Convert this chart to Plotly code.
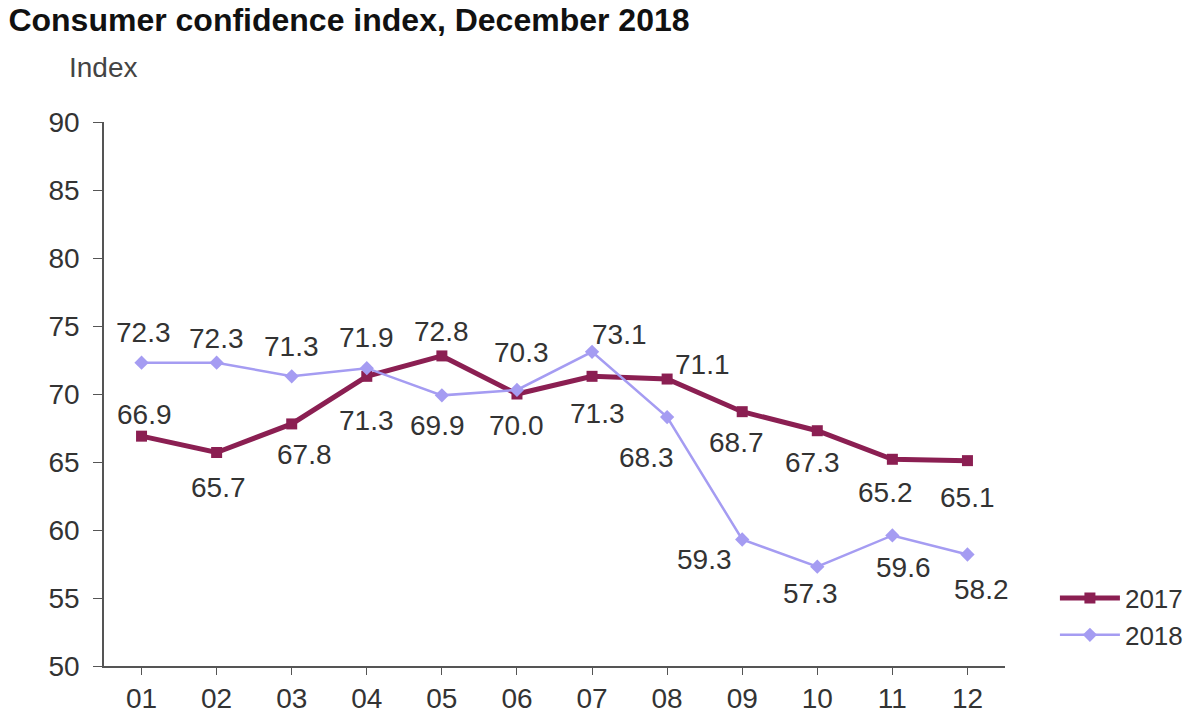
import plotly.graph_objects as go

months = ["01", "02", "03", "04", "05", "06", "07", "08", "09", "10", "11", "12"]
vals_2017 = [66.9, 65.7, 67.8, 71.3, 72.8, 70.0, 71.3, 71.1, 68.7, 67.3, 65.2, 65.1]
vals_2018 = [72.3, 72.3, 71.3, 71.9, 69.9, 70.3, 73.1, 68.3, 59.3, 57.3, 59.6, 58.2]
y_ticks = [50, 55, 60, 65, 70, 75, 80, 85, 90]

# label offsets in pixels (style only)
off_2017 = [(3, 22), (2, -35), (13, -31), (0, -44), (0, 24), (0, -31),
            (5, -37), (35, 15), (-6, -31), (-5, -32), (-7, -33), (0, -37)]
off_2018 = [(2, 30), (0, 24), (0, 30), (0, 31), (-4, -30), (5, 37),
            (27, 17), (-21, -40), (-38, -20), (-7, -27), (11, -32), (14, -35)]

c2017 = "#8b1f52"
c2018 = "#a59cf2"
FONT = "Liberation Sans, Arial"

fig = go.Figure()
fig.add_trace(go.Scatter(
    x=list(range(len(months))), y=vals_2017, name="2017", mode="lines+markers",
    line=dict(color=c2017, width=5),
    marker=dict(symbol="square", size=11, color=c2017),
))
fig.add_trace(go.Scatter(
    x=list(range(len(months))), y=vals_2018, name="2018", mode="lines+markers",
    line=dict(color=c2018, width=2.5),
    marker=dict(symbol="diamond", size=11, color=c2018),
))

ann = []
for vals, offs in ((vals_2017, off_2017), (vals_2018, off_2018)):
    for i, (v, (dx, dy)) in enumerate(zip(vals, offs)):
        ann.append(dict(x=i, y=v, text=f"{v:.1f}", showarrow=False,
                        xshift=dx, yshift=dy,
                        font=dict(size=28, color="#333333", family=FONT)))

ann.append(dict(xref="paper", yref="paper", x=-0.041, y=1.1, xanchor="left", yanchor="middle",
                text="Index", showarrow=False,
                font=dict(size=28, color="#444444", family=FONT)))

fig.update_layout(
    width=1200, height=723,
    margin=dict(l=104, r=193, t=122, b=57),
    paper_bgcolor="white", plot_bgcolor="white",
    font=dict(family=FONT, color="#333333", size=28),
    title=dict(text="<b>Consumer confidence index, December 2018</b>",
               x=0.007, xanchor="left", y=0.972, yanchor="middle",
               font=dict(size=32, color="#111111", family=FONT)),
    showlegend=True,
    legend=dict(x=1.0554, y=0.168, xanchor="left", yanchor="top",
                font=dict(size=26, color="#333333"), tracegroupgap=0,
                itemwidth=60, bgcolor="rgba(0,0,0,0)"),
    annotations=ann,
    xaxis=dict(showline=True, linecolor="#555555", linewidth=1.5, automargin=False,
               tickmode="array", tickvals=list(range(len(months))), ticktext=months,
               ticks="outside", ticklen=7, tickcolor="#555555", showgrid=False, zeroline=False,
               tickfont=dict(size=28), range=[-0.5, 11.5]),
    yaxis=dict(range=[50, 90], tickvals=y_ticks, showline=True, linecolor="#555555",
               linewidth=1.5, ticks="outside", ticklen=9, tickcolor="#555555", automargin=False,
               showgrid=False, zeroline=False, tickfont=dict(size=28), ticklabelstandoff=8),
)

fig.write_html("out.html")
